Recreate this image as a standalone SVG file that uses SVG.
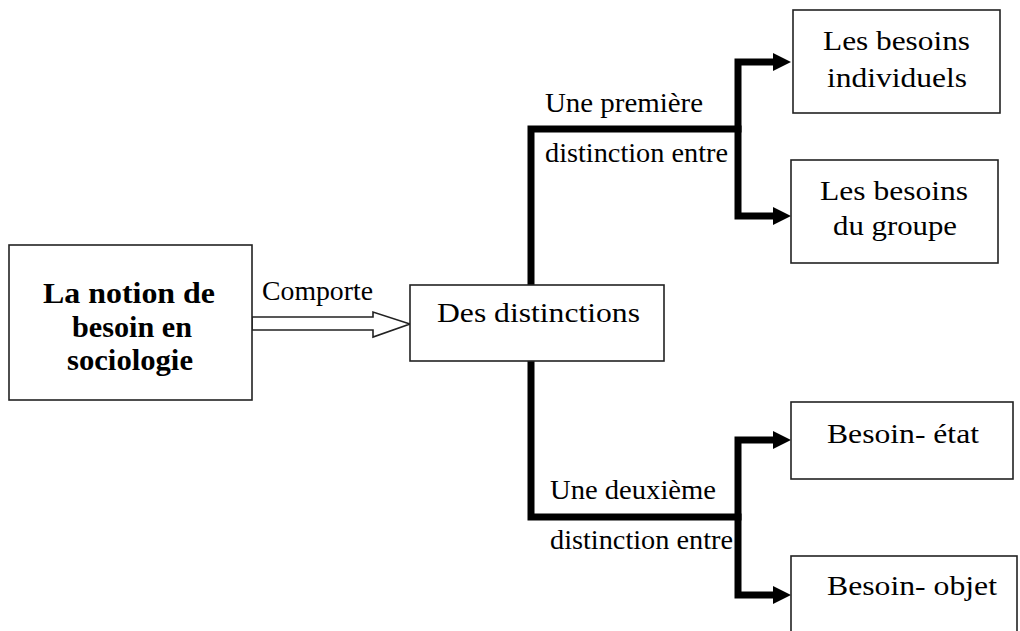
<svg xmlns="http://www.w3.org/2000/svg" width="1020" height="631" viewBox="0 0 1020 631">
<style>
.box{fill:#fff;stroke:#222;stroke-width:1.6}
.t{font-family:"Liberation Serif","Times New Roman",serif;font-size:27px;fill:#000}
.b{font-weight:bold;font-size:29px}
.conn{fill:none;stroke:#000;stroke-width:7;stroke-linejoin:miter;stroke-linecap:square}
.br{stroke-linecap:butt}
</style>
<defs>
<marker id="ah" markerUnits="userSpaceOnUse" markerWidth="20" markerHeight="20" refX="0" refY="9" orient="auto">
<path d="M0,0 L18,9 L0,18 Z" fill="#000"/>
</marker>
</defs>
<rect width="1020" height="631" fill="#fff"/>
<g id="connectors">
<polygon points="252,317 373,317 373,312 410,324 373,337 373,330 252,330" fill="#fff" stroke="#222" stroke-width="1.6"/>
<text class="t" x="262" y="300" textLength="111" lengthAdjust="spacingAndGlyphs">Comporte</text>
<path class="conn" d="M531,285 V129 H738"/>
<path class="conn br" d="M738,129 V62 H773" marker-end="url(#ah)"/>
<path class="conn br" d="M738,129 V216 H773" marker-end="url(#ah)"/>
<path class="conn" d="M531,361 V517 H738"/>
<path class="conn br" d="M738,517 V440 H773" marker-end="url(#ah)"/>
<path class="conn br" d="M738,517 V595 H773" marker-end="url(#ah)"/>
<text class="t" x="545" y="112" textLength="158" lengthAdjust="spacingAndGlyphs">Une première</text>
<text class="t" x="545" y="162" textLength="183" lengthAdjust="spacingAndGlyphs">distinction entre</text>
<text class="t" x="550" y="499" textLength="166" lengthAdjust="spacingAndGlyphs">Une deuxième</text>
<text class="t" x="550" y="549" textLength="183" lengthAdjust="spacingAndGlyphs">distinction entre</text>
</g>
<g id="n-notion">
<rect class="box" x="9" y="245" width="243" height="155"/>
<text class="t b" x="43" y="303" textLength="172" lengthAdjust="spacingAndGlyphs">La notion de</text>
<text class="t b" x="72" y="337" textLength="120" lengthAdjust="spacingAndGlyphs">besoin en</text>
<text class="t b" x="67" y="370" textLength="126" lengthAdjust="spacingAndGlyphs">sociologie</text>
</g>
<g id="n-distinctions">
<rect class="box" x="410" y="285" width="254" height="76"/>
<text class="t" x="437" y="322" textLength="203" lengthAdjust="spacingAndGlyphs">Des distinctions</text>
</g>
<g id="n-individuels">
<rect class="box" x="793" y="10" width="207" height="103"/>
<text class="t" x="823" y="50" textLength="147" lengthAdjust="spacingAndGlyphs">Les besoins</text>
<text class="t" x="827" y="87" textLength="140" lengthAdjust="spacingAndGlyphs">individuels</text>
</g>
<g id="n-groupe">
<rect class="box" x="791" y="160" width="207" height="103"/>
<text class="t" x="820" y="200" textLength="148" lengthAdjust="spacingAndGlyphs">Les besoins</text>
<text class="t" x="833" y="235" textLength="124" lengthAdjust="spacingAndGlyphs">du groupe</text>
</g>
<g id="n-etat">
<rect class="box" x="791" y="402" width="222" height="77"/>
<text class="t" x="827" y="443" textLength="152" lengthAdjust="spacingAndGlyphs">Besoin- état</text>
</g>
<g id="n-objet">
<rect class="box" x="791" y="556" width="226" height="90"/>
<text class="t" x="827" y="595" textLength="170" lengthAdjust="spacingAndGlyphs">Besoin- objet</text>
</g>
</svg>
